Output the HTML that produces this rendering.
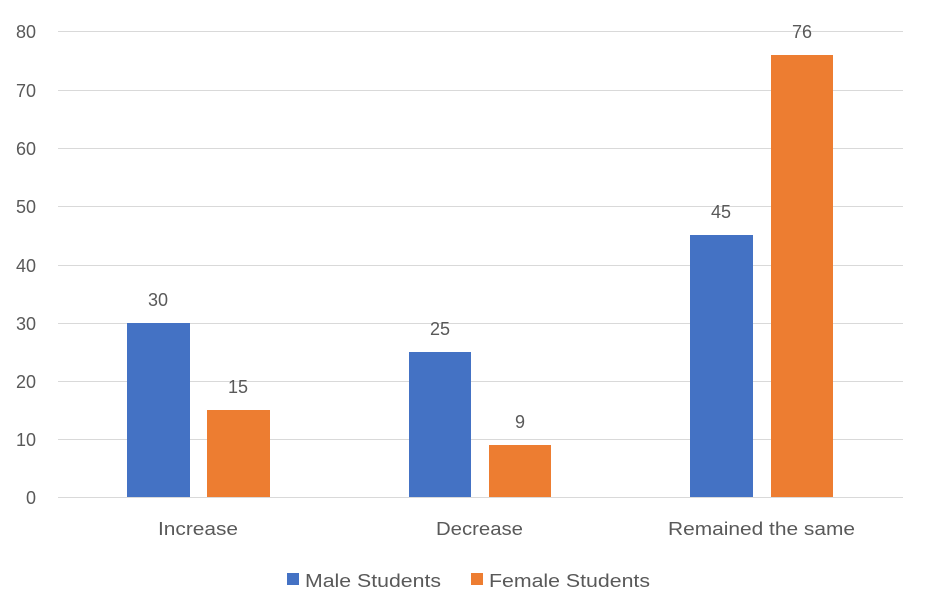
<!DOCTYPE html>
<html><head><meta charset="utf-8"><style>body{margin:0;background:#fff}svg text{font-family:"Liberation Sans",sans-serif;fill:#595959}</style></head>
<body><svg width="925" height="611" xmlns="http://www.w3.org/2000/svg">
<g stroke="#d9d9d9" stroke-width="1">
<line x1="58" x2="903" y1="497.5" y2="497.5"/><line x1="58" x2="903" y1="439.5" y2="439.5"/><line x1="58" x2="903" y1="381.5" y2="381.5"/><line x1="58" x2="903" y1="323.5" y2="323.5"/><line x1="58" x2="903" y1="265.5" y2="265.5"/><line x1="58" x2="903" y1="206.5" y2="206.5"/><line x1="58" x2="903" y1="148.5" y2="148.5"/><line x1="58" x2="903" y1="90.5" y2="90.5"/><line x1="58" x2="903" y1="31.5" y2="31.5"/>
</g>
<g font-size="18" text-anchor="end">
<text x="36" y="504">0</text><text x="36" y="446">10</text><text x="36" y="388">20</text><text x="36" y="330">30</text><text x="36" y="272">40</text><text x="36" y="213">50</text><text x="36" y="155">60</text><text x="36" y="97">70</text><text x="36" y="38">80</text>
</g>
<g fill="#4472c4"><rect x="127" y="323" width="63" height="174"/><rect x="409" y="352" width="62" height="145"/><rect x="690" y="235" width="63" height="262"/></g>
<g fill="#ed7d31"><rect x="207" y="410" width="63" height="87"/><rect x="489" y="445" width="62" height="52"/><rect x="771" y="55" width="62" height="442"/></g>
<g font-size="18" text-anchor="middle">
<text x="158" y="306">30</text><text x="238" y="393">15</text><text x="440" y="335">25</text><text x="520" y="428">9</text><text x="721" y="218">45</text><text x="802" y="38">76</text>
</g>
<g font-size="18">
<text x="158" y="535" textLength="80" lengthAdjust="spacingAndGlyphs">Increase</text>
<text x="436" y="535" textLength="87" lengthAdjust="spacingAndGlyphs">Decrease</text>
<text x="668" y="535" textLength="187" lengthAdjust="spacingAndGlyphs">Remained the same</text>
</g>
<rect x="287" y="573" width="12" height="12" fill="#4472c4"/><text x="305" y="587" font-size="18" textLength="136" lengthAdjust="spacingAndGlyphs">Male Students</text>
<rect x="471" y="573" width="12" height="12" fill="#ed7d31"/><text x="489" y="587" font-size="18" textLength="161" lengthAdjust="spacingAndGlyphs">Female Students</text>
</svg></body></html>
